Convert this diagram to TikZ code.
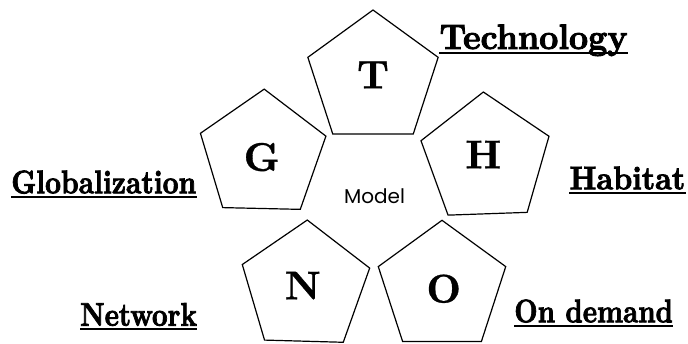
\documentclass[tikz,border=0pt]{standalone}
\usepackage{fontspec}
\usepackage{graphicx}
\usetikzlibrary{shapes.geometric}
\newfontfamily\modelfont{Poppins}
\newfontface\heavyfont{lmroman10-bold.otf}[RawFeature={embolden=2.5}]
\newfontface\letterfont{lmroman10-bold.otf}[RawFeature={embolden=0.8}]
\begin{document}
\begin{tikzpicture}[x=0.75pt,y=-0.75pt,
  penta/.style={regular polygon, regular polygon sides=5, draw=black, line width=0.9pt, fill=white, inner sep=0pt},
  letter/.style={font=\letterfont\fontsize{30}{31}\selectfont, inner sep=0pt, anchor=base},
  lbl/.style={inner sep=0pt, anchor=base west},
  uline/.style={line width=1.5pt}]
\useasboundingbox (0,0) rectangle (688,343);
% pentagons
\node[penta, minimum size=102.75pt] (pT) at (373,78.5) {};
\node[penta, minimum size=99pt, rotate=-1.3] (pG) at (262.7,155.1) {};
\node[penta, minimum size=101pt, rotate=2] (pH) at (485.7,159.3) {};
\node[penta, minimum size=100.5pt, rotate=-1.6] (pN) at (305.4,287) {};
\node[penta, minimum size=100.5pt] (pO) at (442,287.3) {};
% letters
\node[letter] (lT) at (373,88.3) {T};
\node[letter] (lG) at (261.7,170.8) {G};
\node[letter] (lH) at (483.3,168.3) {H};
\node[letter] (lN) at (302.7,299.3) {N};
\node[letter] (lO) at (443.7,302.5) {O};
% centre text
\node[inner sep=0pt, anchor=base, font=\modelfont\fontsize{15}{16}\selectfont] (model) at (374.5,203.5) {Model};
% labels
\node[lbl] (tech) at (439.3,49) {\resizebox{141pt}{\height}{\heavyfont\fontsize{26.5}{28}\selectfont Technology}};
\node[lbl] (glob) at (11,193.3) {\resizebox{138.75pt}{\height}{\heavyfont\fontsize{24.5}{26}\selectfont Globalization}};
\node[lbl] (netw) at (80,325.7) {\resizebox{87.5pt}{\height}{\heavyfont\fontsize{24.5}{26}\selectfont Network}};
\node[lbl] (habi) at (569.3,189.3) {\resizebox{86.8pt}{\height}{\heavyfont\fontsize{24.5}{26}\selectfont Habitat}};
\node[lbl] (demd) at (514,322.3) {\resizebox{119pt}{\height}{\heavyfont\fontsize{24.5}{26}\selectfont On demand}};
% underlines
\foreach \n in {tech,glob,netw,habi,demd}
  \draw[uline] ([yshift=-2.8pt]\n.base west) -- ([yshift=-2.8pt]\n.base east);
\end{tikzpicture}
\end{document}
